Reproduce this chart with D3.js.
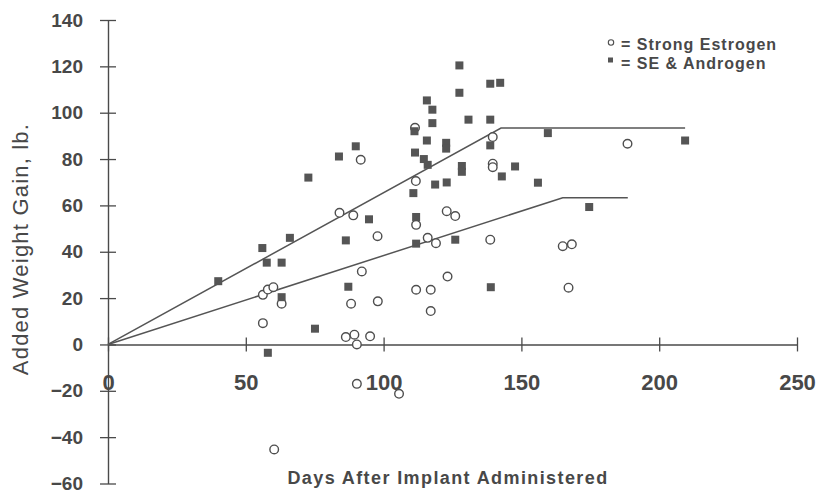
<!DOCTYPE html>
<html>
<head>
<meta charset="utf-8">
<script src="https://cdn.jsdelivr.net/npm/d3@7"></script>
<style>
  body { margin: 0; background: #fff; }
  text { font-family: Arial, "Liberation Sans", sans-serif; fill: #484848; }
</style>
</head>
<body>
<div id="chart"></div>
<script>
// Strong Estrogen (open circles)
var seDays = [56.2, 56.2, 58.0, 60.0, 63.0, 60.3, 84.0, 89.0, 91.7, 97.8, 92.1, 88.2, 97.9,
  86.3, 89.4, 90.3, 95.1, 90.3, 105.6, 111.4, 111.7, 111.8, 111.8, 116.0, 119.0, 117.1,
  117.1, 122.9, 126.0, 123.2, 139.6, 139.6, 139.6, 138.7, 165.0, 168.3, 167.1, 188.5];
var seGain = [9.2, 21.4, 23.7, 24.7, 17.6, -45.3, 56.8, 55.7, 79.7, 46.7, 31.5, 17.6, 18.6,
  3.2, 4.2, 0, 3.5, -17, -21.3, 93.5, 70.5, 51.6, 23.6, 46.0, 43.7, 23.6,
  14.4, 57.5, 55.4, 29.3, 89.5, 78.0, 76.5, 45.2, 42.4, 43.2, 24.5, 86.6];

// SE & Androgen (filled squares)
var saDays = [40, 56, 57.6, 63, 66, 63, 58, 72.7, 75.1, 83.8, 89.9, 94.7, 86.3, 87.2,
  110.8, 111.8, 111.8, 111.4, 111.2, 114.6, 116, 115.7, 117.7, 117.7, 115.7, 118.7, 122.9,
  122.7, 122.7, 126, 127.5, 127.5, 128.4, 128.4, 130.8, 138.7, 142.3, 138.7, 138.7, 138.9,
  142.9, 147.7, 156, 159.6, 174.6, 209.4];
var saGain = [27.3, 41.6, 35.3, 35.3, 46, 20.4, -3.6, 72, 6.8, 81.1, 85.5, 54, 44.9, 24.9,
  65.3, 55, 43.5, 82.8, 92, 80, 77.5, 105.3, 101.3, 95.5, 88, 69, 69.9,
  87, 84.5, 45.2, 120.4, 108.6, 77, 74.5, 97, 112.5, 112.9, 97, 85.9, 24.7,
  72.5, 76.8, 69.8, 91.2, 59.3, 88];

// fitted broken-line responses
var fitSaDays = [0, 142.6, 209.4];
var fitSaGain = [0, 93.4, 93.4];
var fitSeDays = [0, 165, 188.6];
var fitSeGain = [0, 63.3, 63.3];

var xTicks = [0, 50, 100, 150, 200, 250];
var yTicks = [-60, -40, -20, 0, 20, 40, 60, 80, 100, 120, 140];

var width = 820, height = 493;
var ink = '#4a4a4a';

var svg = d3.select('#chart').append('svg')
  .attr('width', width)
  .attr('height', height);

var x = d3.scaleLinear().domain([0, 250]).range([108, 797]);
var y = d3.scaleLinear().domain([-60, 140]).range([483.5, 20]);

// y axis, ticks cross the line
var yAxis = svg.append('g')
  .attr('transform', 'translate(' + x(0) + ',0)')
  .call(d3.axisLeft(y).tickValues(yTicks).tickSizeInner(8).tickSizeOuter(0).tickPadding(17));
yAxis.select('.domain').attr('stroke', ink).attr('stroke-width', 1.4);
yAxis.selectAll('.tick line').attr('stroke', ink).attr('stroke-width', 1.3).attr('x2', 8).attr('x1', -8);
yAxis.selectAll('.tick text')
  .style('font-size', '19px').style('font-weight', 'bold')
  .attr('fill', ink);

// x axis through y = 0
var xAxis = svg.append('g')
  .attr('transform', 'translate(0,' + y(0) + ')')
  .call(d3.axisBottom(x).tickValues(xTicks).tickSizeInner(7).tickSizeOuter(0).tickPadding(23));
xAxis.select('.domain').attr('stroke', ink).attr('stroke-width', 1.4);
xAxis.selectAll('.tick line').attr('stroke', ink).attr('stroke-width', 1.3).attr('y1', -7).attr('y2', 7);
xAxis.selectAll('.tick text')
  .style('font-size', '22px').style('font-weight', 'bold')
  .attr('fill', ink);

// trend lines
var line = d3.line()
  .x(function (d) { return x(d[0]); })
  .y(function (d) { return y(d[1]); });

svg.append('path')
  .attr('d', line(d3.zip(fitSaDays, fitSaGain)))
  .attr('fill', 'none').attr('stroke', '#555').attr('stroke-width', 1.5);
svg.append('path')
  .attr('d', line(d3.zip(fitSeDays, fitSeGain)))
  .attr('fill', 'none').attr('stroke', '#555').attr('stroke-width', 1.5);

// points
svg.append('g').selectAll('circle')
  .data(d3.zip(seDays, seGain))
  .enter()
  .append('circle')
  .attr('cx', function (d) { return x(d[0]); })
  .attr('cy', function (d) { return y(d[1]); })
  .attr('r', 4.3)
  .attr('fill', '#fff')
  .attr('stroke', '#4e4e4e')
  .attr('stroke-width', 1.4);

var sq = 8;
svg.append('g').selectAll('rect')
  .data(d3.zip(saDays, saGain))
  .enter()
  .append('rect')
  .attr('x', function (d) { return x(d[0]) - sq / 2; })
  .attr('y', function (d) { return y(d[1]) - sq / 2; })
  .attr('width', sq)
  .attr('height', sq)
  .attr('fill', '#555');

// legend
var legend = svg.append('g');
legend.append('circle')
  .attr('cx', 611).attr('cy', 42.5).attr('r', 2.7)
  .attr('fill', '#fff').attr('stroke', '#4e4e4e').attr('stroke-width', 1.1);
legend.append('rect')
  .attr('x', 608).attr('y', 57.5).attr('width', 5).attr('height', 5)
  .attr('fill', '#555');
legend.append('text')
  .attr('x', 621).attr('y', 49.5)
  .style('font-size', '16px').style('font-weight', 'bold').style('letter-spacing', '1px')
  .text('= Strong Estrogen');
legend.append('text')
  .attr('x', 621).attr('y', 68.5)
  .style('font-size', '16px').style('font-weight', 'bold').style('letter-spacing', '1px')
  .text('= SE & Androgen');

// axis titles
svg.append('text')
  .attr('transform', 'translate(28,249) rotate(-90)')
  .attr('text-anchor', 'middle')
  .style('font-size', '22px').style('letter-spacing', '1.2px')
  .attr('fill', '#555')
  .text('Added Weight Gain, lb.');

svg.append('text')
  .attr('x', 448).attr('y', 484)
  .attr('text-anchor', 'middle')
  .style('font-size', '18px').style('font-weight', 'bold').style('letter-spacing', '1.4px')
  .text('Days After Implant Administered');
</script>
</body>
</html>
